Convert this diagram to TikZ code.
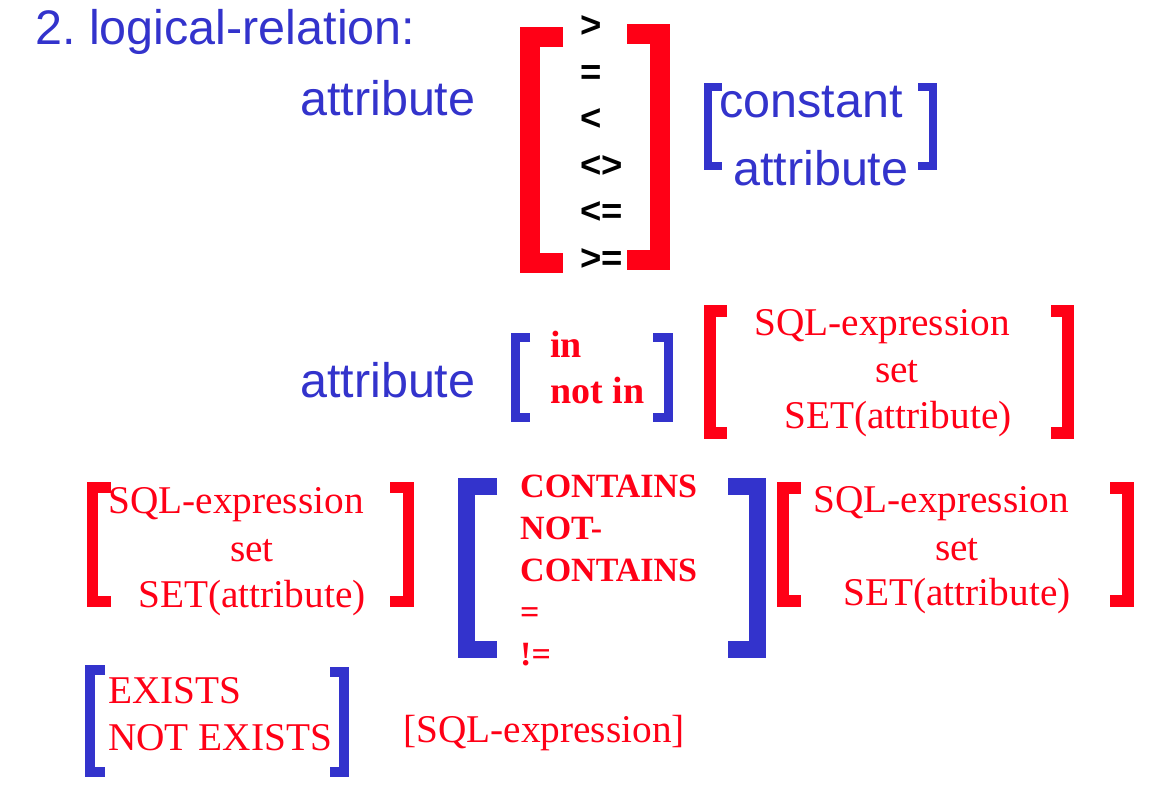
\documentclass[tikz,border=0pt]{standalone}
\usepackage{fontspec}
\setmainfont{Liberation Serif}
\newfontfamily\arialfont{Liberation Sans}
\usepackage{tikz}
\frenchspacing

\definecolor{sqlred}{RGB}{255,0,22}
\definecolor{sqlblue}{RGB}{51,51,204}

\tikzset{
  bluetxt/.style={text=sqlblue, font=\arialfont\fontsize{48.5}{56}\selectfont, inner sep=0pt, anchor=base west},
  optxt/.style={text=black, font=\arialfont\bfseries\fontsize{36.5}{40}\selectfont, inner sep=0pt, anchor=base west},
  redtxt/.style={text=sqlred, font=\fontsize{39.3}{44}\selectfont, inner sep=0pt, anchor=base},
  redbold/.style={text=sqlred, font=\bfseries\fontsize{#1}{38}\selectfont, inner sep=0pt, anchor=base west},
  redbold/.default=34,
  redbrk/.style={draw=sqlred, line width=#1, line join=miter},
  bluebrk/.style={draw=sqlblue, line width=#1, line join=miter},
}

\begin{document}
\begin{tikzpicture}[x=1pt, y=-1pt]
  \useasboundingbox (0,0) rectangle (1156,806);

  % first line
  \node[bluetxt] (title) at (35,44) {2. logical-relation:};
  \node[bluetxt] (attrA) at (300,115) {attribute};

  \draw[redbrk=20pt] (563,37) -- (530,37) -- (530,263) -- (563,263);
  \draw[redbrk=20pt] (627,34) -- (660,34) -- (660,260) -- (627,260);
  \node[optxt] (opGt) at (580,37) {>};
  \node[optxt] (opEq) at (580,84) {=};
  \node[optxt] (opLt) at (580,130) {<};
  \node[optxt] (opNe) at (580,177) {<>};
  \node[optxt] (opLe) at (580,223) {<=};
  \node[optxt] (opGe) at (580,270) {>=};

  \draw[bluebrk=8pt] (722,87) -- (708,87) -- (708,166) -- (722,166);
  \draw[bluebrk=8pt] (918,87) -- (933,87) -- (933,166) -- (918,166);
  \node[bluetxt] (const) at (719,117) {constant};
  \node[bluetxt] (attrB) at (733,185) {attribute};

  % in / not in
  \node[bluetxt] (attrC) at (300,397) {attribute};
  \draw[bluebrk=9pt] (530,337.5) -- (515.5,337.5) -- (515.5,417.5) -- (530,417.5);
  \draw[bluebrk=9pt] (653,337.5) -- (668,337.5) -- (668,417.5) -- (653,417.5);
  \node[redbold=38] (in) at (550,357) {in};
  \node[redbold=38] (notin) at (550,403) {not in};

  \draw[redbrk=12pt] (727,311) -- (710,311) -- (710,433) -- (727,433);
  \draw[redbrk=12pt] (1051,311) -- (1068,311) -- (1068,433) -- (1051,433);
  \node[redtxt] (sqlA) at (882,335) {SQL-expression};
  \node[redtxt] (setA) at (897,382) {set};
  \node[redtxt] (fnA) at (898,428) {SET(attribute)};

  % contains
  \draw[redbrk=11pt] (111,487.5) -- (92.5,487.5) -- (92.5,601.5) -- (111,601.5);
  \draw[redbrk=11pt] (390,487.5) -- (408,487.5) -- (408,601.5) -- (390,601.5);
  \node[redtxt] (sqlB) at (236,513) {SQL-expression};
  \node[redtxt] (setB) at (252,561) {set};
  \node[redtxt] (fnB) at (252,607) {SET(attribute)};

  \draw[bluebrk=17pt] (497,486.5) -- (466.5,486.5) -- (466.5,649.5) -- (497,649.5);
  \draw[bluebrk=17pt] (728,486.5) -- (757.5,486.5) -- (757.5,649.5) -- (728,649.5);
  \node[redbold] (ctA) at (520,497) {CONTAINS};
  \node[redbold] (ctB) at (520,539) {NOT-};
  \node[redbold] (ctC) at (520,581) {CONTAINS};
  \node[redbold] (ctD) at (520,623) {=};
  \node[redbold] (ctE) at (520,665) {!=};

  \draw[redbrk=12pt] (801,488) -- (783,488) -- (783,601) -- (801,601);
  \draw[redbrk=12pt] (1110,488) -- (1127.5,488) -- (1127.5,601) -- (1110,601);
  \node[redtxt] (sqlC) at (941,512) {SQL-expression};
  \node[redtxt] (setC) at (957,560) {set};
  \node[redtxt] (fnC) at (957,605) {SET(attribute)};

  % exists
  \draw[bluebrk=10pt] (105,670) -- (90,670) -- (90,772) -- (105,772);
  \draw[bluebrk=10pt] (330,672) -- (344,672) -- (344,772) -- (330,772);
  \node[redtxt, anchor=base west] (ex) at (108,703) {EXISTS};
  \node[redtxt, anchor=base west] (notex) at (108,750) {NOT EXISTS};
  \node[redtxt, anchor=base west] (sqlD) at (403,742) {[SQL-expression]};
\end{tikzpicture}
\end{document}
